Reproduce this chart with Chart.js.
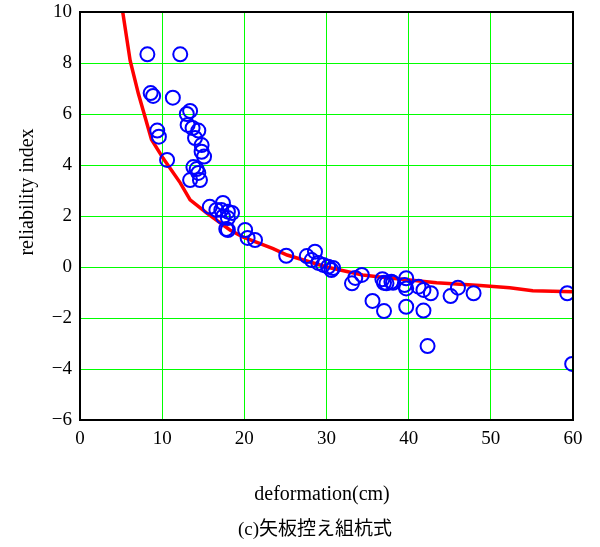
<!DOCTYPE html>
<html>
<head>
<meta charset="utf-8">
<script src="https://cdn.jsdelivr.net/npm/chart.js@4/dist/chart.umd.min.js"></script>
<style>
  html, body { margin: 0; padding: 0; background: #fff; }
  #wrap { width: 600px; height: 547px; }
</style>
</head>
<body>
<div id="wrap"><canvas id="c" width="600" height="547"></canvas></div>
<script>
// observed points: deformation (cm) / reliability index
const obsX = [8.2, 12.2, 8.6, 8.9, 11.3, 13.0, 13.4, 13.1, 13.7, 14.4, 14.0, 14.8, 14.8, 15.1,
  9.4, 9.6, 10.6, 13.8, 14.2, 14.4, 13.4, 14.6,
  15.8, 16.6, 17.4, 17.2, 18.0, 17.4, 18.5, 18.0, 18.0, 17.8, 20.1, 20.4, 21.3,
  25.1, 27.6, 28.6, 28.2, 29.0, 29.6, 30.2, 30.8, 30.6,
  33.1, 33.5, 34.3, 35.6, 37.0, 36.8, 37.3, 37.9, 37.0, 38.1,
  39.7, 39.5, 39.7, 39.7, 41.2, 41.8, 42.7, 41.8, 42.3, 45.1, 46.0, 47.9, 59.3, 59.9];
const obsY = [8.34, 8.34, 6.82, 6.71, 6.64, 6.0, 6.12, 5.57, 5.45, 5.35, 5.06, 4.78, 4.52, 4.33,
  5.35, 5.11, 4.2, 3.92, 3.84, 3.69, 3.41, 3.41,
  2.36, 2.24, 2.51, 2.24, 2.17, 1.97, 2.12, 1.92, 1.45, 1.49, 1.45, 1.14, 1.06,
  0.44, 0.43, 0.6, 0.27, 0.16, 0.08, 0.01, -0.04, -0.12,
  -0.64, -0.43, -0.31, -1.33, -1.73, -0.48, -0.64, -0.58, -0.62, -0.62,
  -0.44, -0.71, -0.84, -1.56, -0.77, -0.9, -1.03, -1.71, -3.1, -1.14, -0.81, -1.03, -1.03, -3.8];

// fitted curve
const fitX = [5.2, 6.1, 7.1, 8.7, 10.1, 12.2, 13.4, 15.4, 18.25, 19.8, 23.5, 25.2, 30, 34.4,
  36.5, 39.8, 43.4, 48.7, 52.3, 55.1, 60];
const fitY = [10, 8.1, 6.8, 5.0, 4.27, 3.3, 2.63, 2.12, 1.45, 1.18, 0.72, 0.47, 0.0, -0.31,
  -0.39, -0.5, -0.62, -0.73, -0.81, -0.93, -0.97];

const xTicks = [0, 10, 20, 30, 40, 50, 60];
const yTicks = [-6, -4, -2, 0, 2, 4, 6, 8, 10];

const xTitle = 'deformation(cm)';
const yTitle = 'reliability index';
const caption = '(c)矢板控え組杭式';

const SERIF = "'Liberation Serif', 'DejaVu Serif', serif";
const GRID = '#00ff00';

// frame + texts drawn around the plot
const frameAndText = {
  id: 'frameAndText',
  afterDraw(chart) {
    const { ctx, chartArea: a } = chart;
    ctx.save();
    ctx.strokeStyle = '#000';
    ctx.lineWidth = 2;
    ctx.strokeRect(a.left, a.top, a.right - a.left, a.bottom - a.top);

    ctx.fillStyle = '#000';
    ctx.font = '20px ' + SERIF;
    ctx.textAlign = 'center';
    ctx.textBaseline = 'middle';
    ctx.fillText(xTitle, 322, 495);
    ctx.font = "19px " + SERIF + ", 'Noto Sans CJK JP'";
    ctx.fillText(caption, 315, 530);

    ctx.translate(28, 192);
    ctx.rotate(-Math.PI / 2);
    ctx.font = '20px ' + SERIF;
    ctx.fillText(yTitle, 0, 0);
    ctx.restore();
  }
};

new Chart(document.getElementById('c'), {
  type: 'scatter',
  data: {
    datasets: [
      {
        label: 'observed',
        data: obsX.map((x, i) => ({ x, y: obsY[i] })),
        pointStyle: 'circle',
        pointRadius: 7,
        pointBorderWidth: 2,
        borderColor: '#0000ff',
        backgroundColor: 'rgba(0,0,0,0)',
        order: 0
      },
      {
        type: 'line',
        label: 'fit',
        data: fitX.map((x, i) => ({ x, y: fitY[i] })),
        borderColor: '#ff0000',
        borderWidth: 3.5,
        pointRadius: 0,
        tension: 0,
        fill: false,
        order: 1
      }
    ]
  },
  options: {
    responsive: false,
    animation: false,
    layout: { padding: { top: 12, right: 27 } },
    plugins: {
      legend: { display: false },
      tooltip: { enabled: false }
    },
    scales: {
      x: {
        type: 'linear',
        min: 0, max: 60,
        afterBuildTicks: s => { s.ticks = xTicks.map(v => ({ value: v })); },
        afterFit: s => { s.height = 127; s.paddingRight = 0; s.paddingLeft = 0; },
        grid: { color: GRID, lineWidth: 1, drawTicks: false },
        border: { display: false },
        ticks: {
          padding: 8,
          color: '#000',
          font: { family: SERIF, size: 19 },
          maxRotation: 0
        }
      },
      y: {
        type: 'linear',
        min: -6, max: 10,
        afterBuildTicks: s => { s.ticks = yTicks.map(v => ({ value: v })); },
        afterFit: s => { s.width = 80; s.paddingTop = 0; s.paddingBottom = 0; },
        grid: { color: GRID, lineWidth: 1, drawTicks: false },
        border: { display: false },
        ticks: {
          padding: 8,
          color: '#000',
          font: { family: SERIF, size: 19 },
          callback: v => (v < 0 ? '\u2212' + Math.abs(v) : String(v))
        }
      }
    }
  },
  plugins: [frameAndText]
});
</script>
</body>
</html>
